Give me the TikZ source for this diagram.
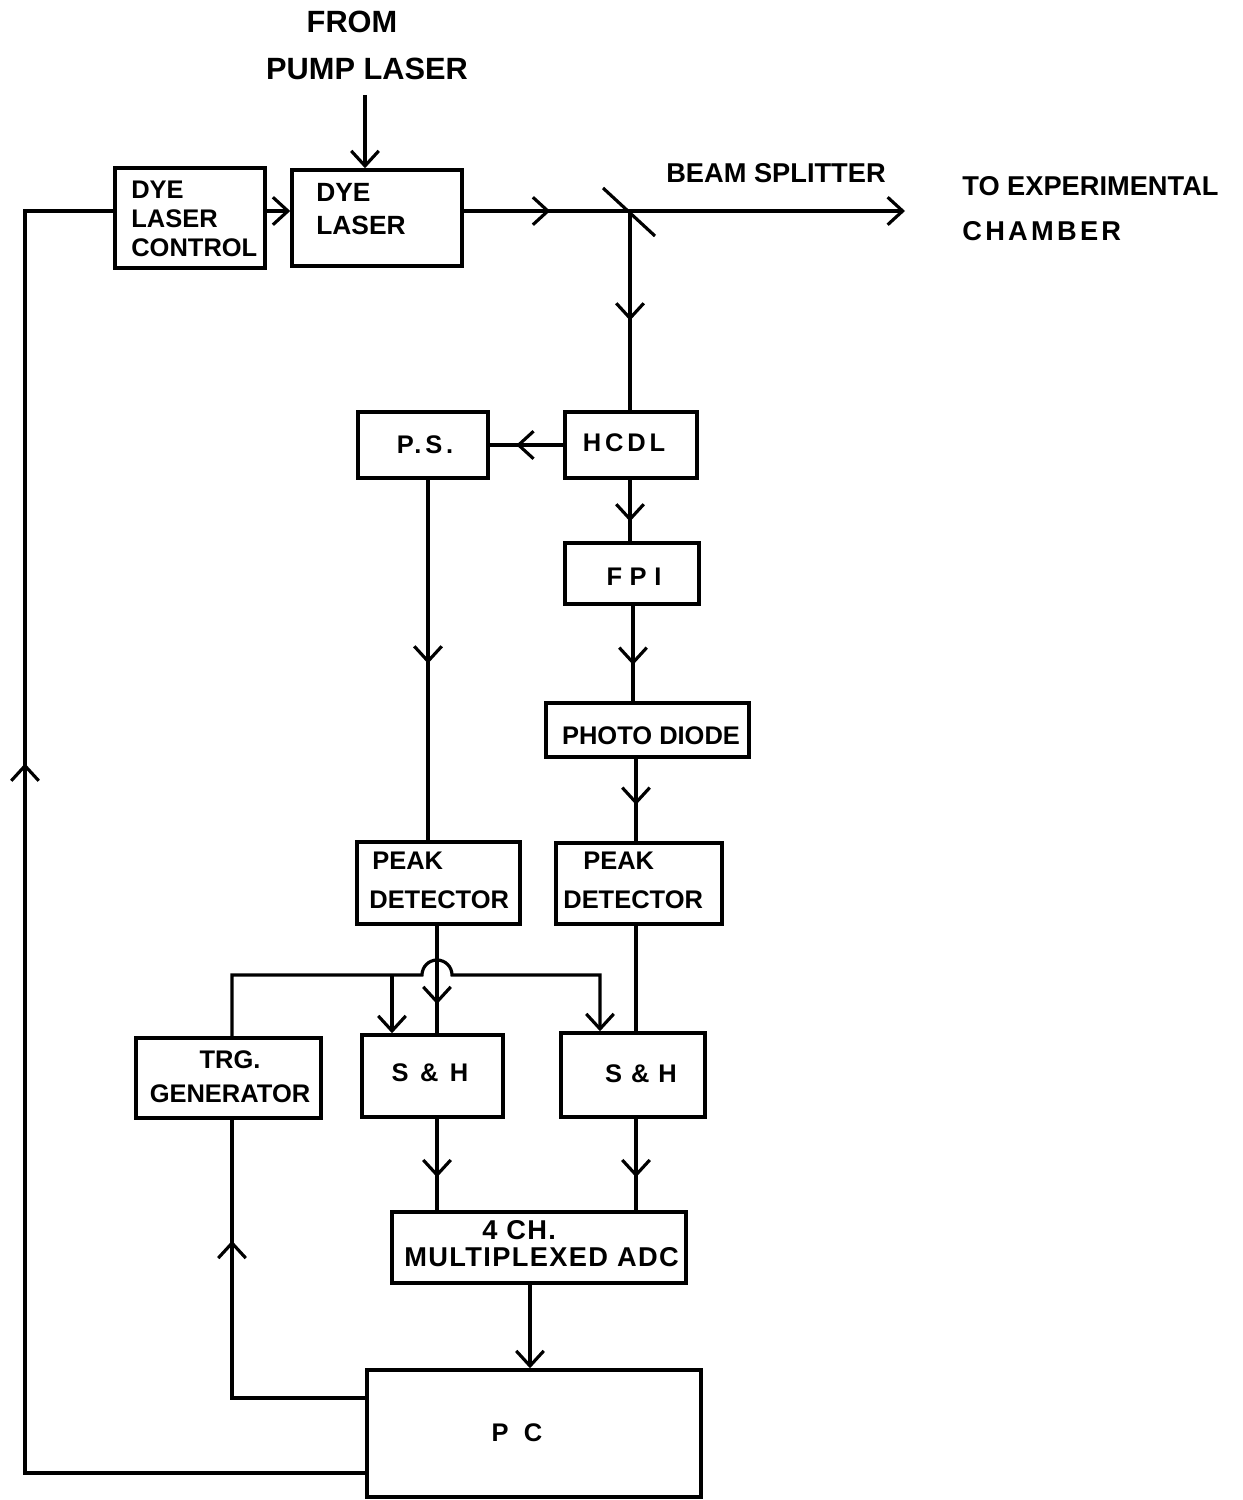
\documentclass[tikz,border=0pt]{standalone}
\usepackage{fontspec}
\setmainfont{Liberation Sans}
\usetikzlibrary{arrows.meta,decorations.markings,fit}
\tikzset{
  box/.style={draw, line width=2pt, inner sep=0pt},
  txt/.style={inner sep=0pt, font=\fontsize{14.5}{17}\selectfont\bfseries},
  conn/.style={line width=1.8pt},
  tip/.style={-{Straight Barb[length=3mm,width=5.5mm]}},
  marr/.style={postaction={decorate}, decoration={markings, mark=at position #1 with {\arrow{Straight Barb[length=3mm,width=5.5mm]}}}},
}
\begin{document}
\begin{tikzpicture}[x=0.02cm,y=-0.02cm]
\useasboundingbox (0,0) rectangle (1242,1500);

% boxes
\node[box, fit={(115,168) (265,268)}] (dlc) {};
\node[box, fit={(292,170) (462,266)}] (dl) {};
\node[box, fit={(358,412) (488,478)}] (ps) {};
\node[box, fit={(565,412) (697,478)}] (hcdl) {};
\node[box, fit={(565,543) (699,604)}] (fpi) {};
\node[box, fit={(546,703) (749,757)}] (pd) {};
\node[box, fit={(357,842) (520,924)}] (pdL) {};
\node[box, fit={(556,843) (722,924)}] (pdR) {};
\node[box, fit={(136,1038) (321,1118)}] (trg) {};
\node[box, fit={(362,1035) (503,1117)}] (shL) {};
\node[box, fit={(561,1033) (705,1117)}] (shR) {};
\node[box, fit={(392,1212) (686,1283)}] (adc) {};
\node[box, fit={(367,1370) (701,1497)}] (pc) {};

% texts
\node[txt, font=\fontsize{17.5}{20}\selectfont\bfseries] (t-from) at (352,22) {FROM};
\node[txt, font=\fontsize{17.5}{20}\selectfont\bfseries] (t-pump) at (367,69) {PUMP LASER};
\node[txt, font=\fontsize{15.5}{18}\selectfont\bfseries] (t-bs) at (776,173) {BEAM SPLITTER};
\node[txt, anchor=west, font=\fontsize{15.5}{18}\selectfont\bfseries] (t-to) at (962,186) {TO EXPERIMENTAL};
\node[txt, anchor=west, font=\fontsize{15.5}{18}\selectfont\bfseries\addfontfeatures{LetterSpace=12}] (t-ch) at (962,231) {CHAMBER};
\node[txt, anchor=west, align=left, font=\fontsize{14.5}{16.4}\selectfont\bfseries] (t-dlc) at (131,219) {DYE\\LASER\\CONTROL};
\node[txt, anchor=west, align=left, font=\fontsize{15}{18.7}\selectfont\bfseries] (t-dl) at (316,209) {DYE\\LASER};
\node[txt, font=\fontsize{14.5}{17}\selectfont\bfseries\addfontfeatures{LetterSpace=15}] (t-ps) at (425,445) {P.S.};
\node[txt, font=\fontsize{14.5}{17}\selectfont\bfseries\addfontfeatures{LetterSpace=15}] (t-hcdl) at (624,443) {HCDL};
\node[txt, font=\fontsize{14.5}{17}\selectfont\bfseries\addfontfeatures{LetterSpace=30}] (t-fpi) at (634,577) {FPI};
\node[txt] (t-pd) at (651,736) {PHOTO DIODE};
\node[txt, anchor=west, align=left, font=\fontsize{14.5}{22.1}\selectfont\bfseries] (t-pdL) at (369,880) {\hspace*{0.06cm}PEAK\\DETECTOR};
\node[txt, anchor=west, align=left, font=\fontsize{14.5}{22.1}\selectfont\bfseries] (t-pdR) at (563,880) {\hspace*{0.4cm}PEAK\\DETECTOR};
\node[txt, align=center, font=\fontsize{14.5}{19.3}\selectfont\bfseries] (t-trg) at (230,1077) {TRG.\\GENERATOR};
\node[txt] (t-shL) at (430,1073) {S\hspace{0.45em}\&\hspace{0.45em}H};
\node[txt] (t-shR) at (641,1074) {S\hspace{0.35em}\&\hspace{0.35em}H};
\node[txt, anchor=west, align=left, font=\fontsize{15.5}{15.3}\selectfont\bfseries\addfontfeatures{LetterSpace=5}] (t-adc) at (404,1244) {\hspace*{1.56cm}4 CH.\\MULTIPLEXED ADC};
\node[txt] (t-pc) at (517,1433) {P\hspace{0.6em}C};

% helper coordinates
\coordinate (yl) at (0,211);
\coordinate (bs) at (630,211);
\coordinate (out) at (905,211);
\coordinate (pump) at (365,95);
\coordinate (c2) at (633,0);
\coordinate (c3) at (636,0);
\coordinate (c5) at (428,0);
\coordinate (c6) at (437,0);
\coordinate (c7) at (530,0);
\coordinate (xa) at (232,0);
\coordinate (xb) at (25,0);
\coordinate (xs) at (600,0);
\coordinate (ya) at (0,1398);
\coordinate (yb) at (0,1473);
\coordinate (jL) at (422,975);
\coordinate (br) at (392,975);

% beam splitter mirror
\draw[conn] (603,188) -- (655,236);

% connectors
\draw[conn, tip] (pump) -- (pump |- dl.north);
\draw[conn, tip] (dlc.east |- yl) -- (dl.west |- yl);
\draw[conn, marr=0.52] (dl.east |- yl) -- (bs);
\draw[conn, tip] (bs) -- (out);
\draw[conn, marr=0.55] (bs) -- (bs |- hcdl.north);
\draw[conn, marr=0.64] (hcdl.west) -- (ps.east);
\draw[conn, marr=0.68] (bs |- hcdl.south) -- (bs |- fpi.north);
\draw[conn, marr=0.62] (c2 |- fpi.south) -- (c2 |- pd.north);
\draw[conn, marr=0.56] (c3 |- pd.south) -- (c3 |- pdR.north);
\draw[conn, marr=0.51] (c5 |- ps.south) -- (c5 |- pdL.north);
\draw[conn, marr=0.73] (c6 |- pdL.south) -- (c6 |- shL.north);
\draw[conn] (c3 |- pdR.south) -- (c3 |- shR.north);
\draw[conn, tip] (xa |- trg.north) |- (jL) arc[start angle=180, end angle=360, radius=15] -| (xs |- shR.north);
\draw[conn, tip] (br) -- (br |- shL.north);
\draw[conn, marr=0.64] (c6 |- shL.south) -- (c6 |- adc.north);
\draw[conn, marr=0.64] (c3 |- shR.south) -- (c3 |- adc.north);
\draw[conn, tip] (c7 |- adc.south) -- (c7 |- pc.north);
\draw[conn, marr=0.706] (pc.west |- ya) -| (xa |- trg.south);
\draw[conn, marr=0.621] (pc.west |- yb) -| (xb |- yl) -- (dlc.west |- yl);
\end{tikzpicture}
\end{document}
